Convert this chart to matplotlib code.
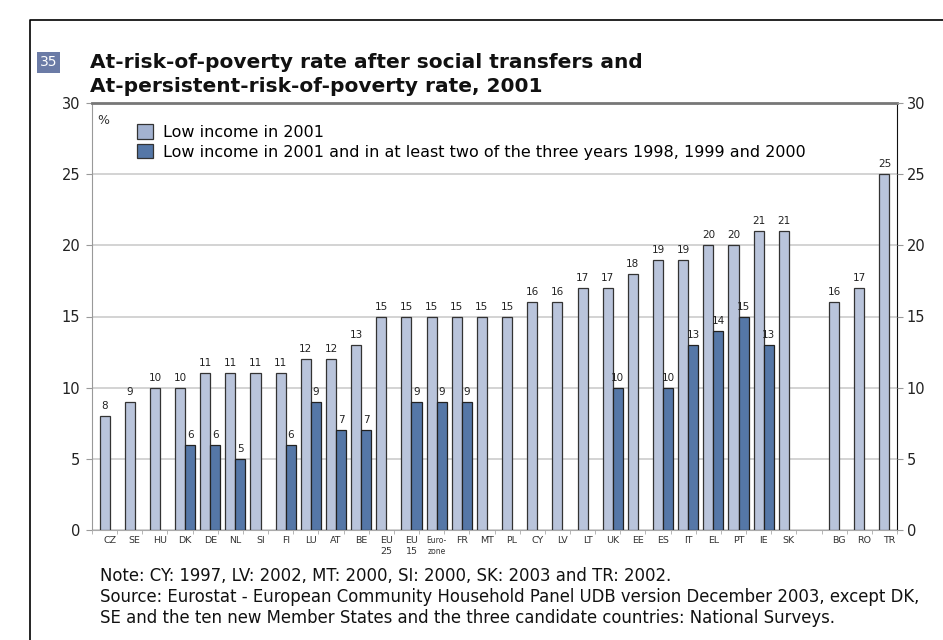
import matplotlib.pyplot as plt
import numpy as np
from matplotlib.patches import Patch, Rectangle
from matplotlib.lines import Line2D

countries = ['CZ', 'SE', 'HU', 'DK', 'DE', 'NL', 'SI', 'FI', 'LU', 'AT', 'BE',
             'EU\n25', 'EU\n15', 'Euro-\nzone', 'FR', 'MT', 'PL', 'CY', 'LV', 'LT',
             'UK', 'EE', 'ES', 'IT', 'EL', 'PT', 'IE', 'SK', '', 'BG', 'RO', 'TR']
low_2001 = [8, 9, 10, 10, 11, 11, 11, 11, 12, 12, 13, 15, 15, 15, 15, 15, 15,
            16, 16, 17, 17, 18, 19, 19, 20, 20, 21, 21, None, 16, 17, 25]
persistent = [None, None, None, 6, 6, 5, None, 6, 9, 7, 7, None, 9, 9, 9, None,
              None, None, None, None, 10, None, 10, 13, 14, 15, 13, None, None,
              None, None, None]

light = '#b9c4db'
dark = '#5577a7'
W, H = 943, 640

fig = plt.figure(figsize=(W / 100, H / 100), dpi=100)
ax = fig.add_axes([92 / W, 1 - 530 / H, 805 / W, 427 / H])

x = np.arange(len(countries))
bw = 0.4
for i in x:
    if low_2001[i] is not None:
        ax.bar(i, low_2001[i], bw, color=light, edgecolor='#333333', linewidth=0.9, zorder=3)
        ax.text(i, low_2001[i] + 0.35, str(low_2001[i]), ha='center', va='bottom',
                fontsize=7.5, color='#222222')
    if persistent[i] is not None:
        ax.bar(i + bw, persistent[i], bw, color=dark, edgecolor='#222222', linewidth=0.9, zorder=3)
        ax.text(i + bw, persistent[i] + 0.35, str(persistent[i]), ha='center', va='bottom',
                fontsize=7.5, color='#222222')

ax.set_xlim(-0.5, len(countries) - 0.5)
ax.set_ylim(0, 30)
ax.set_yticks(range(0, 31, 5))
ax.yaxis.grid(True, color='#cccccc', linewidth=1.2, zorder=0)
ax.set_axisbelow(True)

ax.set_xticks(x + bw / 2)
ax.set_xticklabels(countries, fontsize=6.8, color='#333333', linespacing=1.3)
for lab in ax.get_xticklabels():
    if lab.get_text().startswith('Euro'):
        lab.set_fontsize(5.5)
ax.tick_params(axis='x', length=0, pad=4)
ax.set_xticks(np.arange(-0.5, len(countries), 1), minor=True)
ax.tick_params(axis='x', which='minor', length=3, color='#aaaaaa')
ax.tick_params(axis='y', labelsize=10.5, colors='#333333', length=4, color='#999999', pad=4.5)
for lab in ax.get_yticklabels():
    lab.set_color('#222222')

ax.spines['top'].set_color('#777777')
ax.spines['top'].set_linewidth(2)
ax.spines['left'].set_color('#999999')
ax.spines['bottom'].set_color('#aaaaaa')
ax.spines['right'].set_color('#111111')

ax2 = ax.twinx()
ax2.set_ylim(0, 30)
ax2.set_yticks(range(0, 31, 5))
ax2.tick_params(axis='y', labelsize=10.5, labelcolor='#222222', length=4, color='#999999', pad=3)
for s in ax2.spines.values():
    s.set_visible(False)

ax.text(0.006, 0.975, '%', transform=ax.transAxes, fontsize=9, color='#333333', va='top')

handles = [Patch(facecolor='#a3b2d0', edgecolor='#333333', linewidth=0.9),
           Patch(facecolor=dark, edgecolor='#333333', linewidth=0.9)]
ax.legend(handles, ['Low income in 2001',
                    'Low income in 2001 and in at least two of the three years 1998, 1999 and 2000'],
          loc='upper left', bbox_to_anchor=(0.048, 0.965), frameon=False, fontsize=11.5,
          handlelength=1.0, handleheight=1.0, handletextpad=0.6, labelspacing=0.25,
          borderaxespad=0)

# title block
fig.add_artist(Rectangle((37 / W, 1 - 73 / H), 23 / W, 21 / H, transform=fig.transFigure,
                         facecolor='#6b7ba6', edgecolor='none'))
fig.text(48.5 / W, 1 - 62.5 / H, '35', color='white', fontsize=10, ha='center', va='center')
fig.text(90 / W, 1 - 62 / H, 'At-risk-of-poverty rate after social transfers and',
         fontsize=14.5, fontweight='bold', va='center', color='#111111')
fig.text(90 / W, 1 - 86 / H, 'At-persistent-risk-of-poverty rate, 2001',
         fontsize=14.5, fontweight='bold', va='center', color='#111111')

# frame
fig.add_artist(Line2D([30 / W, 30 / W, 1], [0, 1 - 20 / H, 1 - 20 / H],
                      transform=fig.transFigure, color='black', linewidth=1.2))

notes = ['Note: CY: 1997, LV: 2002, MT: 2000, SI: 2000, SK: 2003 and TR: 2002.',
         'Source: Eurostat - European Community Household Panel UDB version December 2003, except DK,',
         'SE and the ten new Member States and the three candidate countries: National Surveys.']
for k, line in enumerate(notes):
    fig.text(100 / W, 1 - (576 + 21 * k) / H, line, fontsize=11.9, va='center', color='#111111')

fig.savefig('out.png', dpi=100)
